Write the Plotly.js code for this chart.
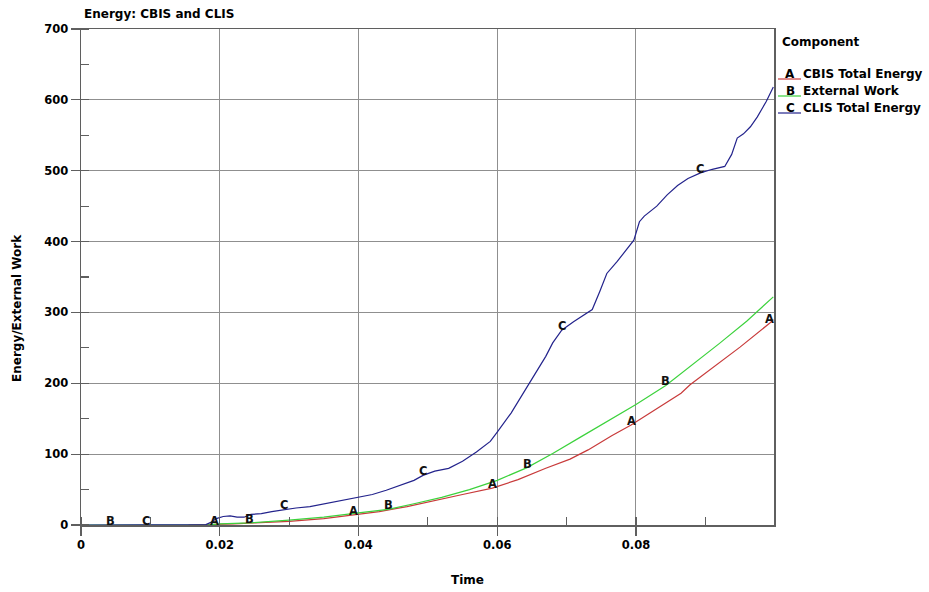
<!DOCTYPE html>
<html>
<head>
<meta charset="utf-8">
<script src="https://cdn.plot.ly/plotly-3.0.1.min.js"></script>
<style>html,body{margin:0;padding:0;background:#fff;}#chart{width:929px;height:592px;}</style>
</head>
<body>
<div id="chart"></div>
<script>
// ---- data ----
const seriesNames = ["CBIS Total Energy", "External Work", "CLIS Total Energy"];
const seriesLetters = ["A", "B", "C"];
const seriesColors = ["#c83a3a", "#3cd23c", "#23238c"];

const timeA = [0.0155, 0.0193, 0.022, 0.025, 0.03, 0.035, 0.0393, 0.043, 0.047, 0.051, 0.055, 0.0593, 0.063, 0.067, 0.0705, 0.0731, 0.0765, 0.0793, 0.082, 0.085, 0.0865, 0.0878, 0.091, 0.095, 0.0993, 0.0998];
const valueA = [0, 0.5, 1.5, 3, 5, 9, 14, 19, 26, 34, 43, 52, 64, 80, 93, 106, 126, 141, 158, 176, 186, 198, 222, 251, 285, 290];

const timeB = [0, 0.0043, 0.018, 0.02, 0.0243, 0.03, 0.035, 0.04, 0.0443, 0.048, 0.052, 0.056, 0.06, 0.0643, 0.068, 0.072, 0.076, 0.08, 0.0843, 0.088, 0.092, 0.096, 0.0998];
const valueB = [0, 0, 0, 1.5, 3, 7, 11, 17, 22, 30, 39, 50, 63, 81, 101, 124, 147, 170, 197, 225, 256, 288, 322];

const timeC = [0, 0.0093, 0.0145, 0.018, 0.0188, 0.0195, 0.0205, 0.0215, 0.0225, 0.0235, 0.0245, 0.026, 0.0275, 0.0293, 0.031, 0.033, 0.035, 0.037, 0.039, 0.04, 0.042, 0.044, 0.046, 0.048, 0.0493, 0.051, 0.053, 0.055, 0.057, 0.059, 0.06, 0.062, 0.064, 0.0655, 0.067, 0.068, 0.0693, 0.071, 0.0725, 0.0737, 0.0748, 0.0758, 0.0773, 0.0787, 0.0797, 0.0805, 0.0812, 0.083, 0.0845, 0.086, 0.0875, 0.0893, 0.091, 0.0928, 0.0938, 0.0946, 0.0955, 0.0965, 0.0975, 0.0988, 0.0998];
const valueC = [0, 0, 0, 0.5, 4, 9, 12, 13, 11, 11, 15, 16, 19, 22, 24, 26, 30, 33, 37, 39, 43, 49, 56, 63, 70, 76, 80, 90, 103, 118, 131, 158, 190, 214, 238, 257, 275, 287, 297, 304, 330, 355, 372, 390, 402, 428, 436, 450, 466, 479, 489, 497, 502, 506, 523, 546, 552, 562, 576, 598, 618];

const labelTimesA = [0.0193, 0.0393, 0.0593, 0.0793, 0.0993];
const labelTimesB = [0.0043, 0.0243, 0.0443, 0.0643, 0.0843];
const labelTimesC = [0.0093, 0.0293, 0.0493, 0.0693, 0.0893];

const xTickVals = [0, 0.02, 0.04, 0.06, 0.08];
const xTickLabels = ["0", "0.02", "0.04", "0.06", "0.08"];
const yTickVals = [0, 100, 200, 300, 400, 500, 600, 700];
const yTickLabels = ["0", "100", "200", "300", "400", "500", "600", "700"];

const chartTitle = "Energy: CBIS and CLIS";
const xTitle = "Time";
const yTitle = "Energy/External Work";
const legendTitle = "Component";

// ---- build ----
const FONT = "'DejaVu Sans', Verdana, sans-serif";
const times = [timeA, timeB, timeC];
const values = [valueA, valueB, valueC];
const labelTimes = [labelTimesA, labelTimesB, labelTimesC];

const traces = times.map((t, i) => ({
  x: t, y: values[i], type: "scatter", mode: "lines",
  name: seriesNames[i], showlegend: false,
  line: {color: seriesColors[i], width: 1.2}, hoverinfo: "skip"
}));

// plot area in pixels: left 81, right 774, top 29, bottom 525
const L = 81, R = 774, T = 29, B = 525;
const px = x => (x - L) / (R - L);
const py = y => (B - y) / (B - T);

const annotations = [];
labelTimes.forEach((lt, i) => {
  lt.forEach(tv => {
    const idx = times[i].indexOf(tv);
    if (idx >= 0) {
      annotations.push({x: tv, y: values[i][idx], xref: "x", yref: "y", text: "<b>" + seriesLetters[i] + "</b>",
        showarrow: false, yshift: 4, font: {family: FONT, size: 11.5, color: "#111"}});
    }
  });
});

annotations.push({x: px(82), y: py(14), xref: "paper", yref: "paper", text: "<b>" + chartTitle + "</b>", showarrow: false,
  xanchor: "left", yanchor: "middle", font: {family: FONT, size: 12, color: "#000"}});
annotations.push({x: px(467), y: py(580), xref: "paper", yref: "paper", text: "<b>" + xTitle + "</b>", showarrow: false,
  xanchor: "center", yanchor: "middle", font: {family: FONT, size: 12, color: "#000"}});
annotations.push({x: px(17), y: py(308), xref: "paper", yref: "paper", text: "<b>" + yTitle + "</b>", showarrow: false,
  textangle: -90, xanchor: "center", yanchor: "middle", font: {family: FONT, size: 12, color: "#000"}});
annotations.push({x: px(780), y: py(42), xref: "paper", yref: "paper", text: "<b>" + legendTitle + "</b>", showarrow: false,
  xanchor: "left", yanchor: "middle", font: {family: FONT, size: 12, color: "#000"}});

const shapes = [];
const rowY = [74, 91, 108];
seriesNames.forEach((nm, i) => {
  annotations.push({x: px(790), y: py(rowY[i]), xref: "paper", yref: "paper", text: "<b>" + seriesLetters[i] + "</b>", showarrow: false,
    xanchor: "center", yanchor: "middle", font: {family: FONT, size: 12, color: "#000"}});
  annotations.push({x: px(801), y: py(rowY[i]), xref: "paper", yref: "paper", text: "<b>" + nm + "</b>", showarrow: false,
    xanchor: "left", yanchor: "middle", font: {family: FONT, size: 12, color: "#000"}});
  shapes.push({type: "line", xref: "paper", yref: "paper", x0: px(778), x1: px(801), y0: py(rowY[i] + 5), y1: py(rowY[i] + 5),
    line: {color: seriesColors[i], width: 1.2}});
});

const axisCommon = {
  showline: true, linecolor: "#5f5f5f", linewidth: 1.5, mirror: true,
  ticks: "outside", ticklen: 9, tickcolor: "#5f5f5f", tickwidth: 1.2,
  showgrid: true, gridcolor: "#8f8f8f", gridwidth: 1, zeroline: false,
  tickfont: {family: FONT, size: 11.5, color: "#000", weight: "bold"}
};

const layout = {
  width: 929, height: 592,
  margin: {l: L, r: 929 - R, t: T, b: 592 - B, pad: 0},
  paper_bgcolor: "#fff", plot_bgcolor: "#fff",
  showlegend: false,
  xaxis: Object.assign({}, axisCommon, {
    range: [0, 0.0999], tickmode: "array", tickvals: xTickVals, ticktext: xTickLabels,
    minor: {tickmode: "linear", tick0: 0, dtick: 0.01, ticks: "inside", ticklen: 8, tickcolor: "#5f5f5f", tickwidth: 1.2, showgrid: false}
  }),
  yaxis: Object.assign({}, axisCommon, {
    range: [0, 700], tickmode: "array", tickvals: yTickVals, ticktext: yTickLabels,
    minor: {tickmode: "linear", tick0: 0, dtick: 50, ticks: "inside", ticklen: 8, tickcolor: "#5f5f5f", tickwidth: 1.2, showgrid: false}
  }),
  annotations: annotations,
  shapes: shapes
};

Plotly.newPlot("chart", traces, layout, {displayModeBar: false, staticPlot: true});
</script>
</body>
</html>
